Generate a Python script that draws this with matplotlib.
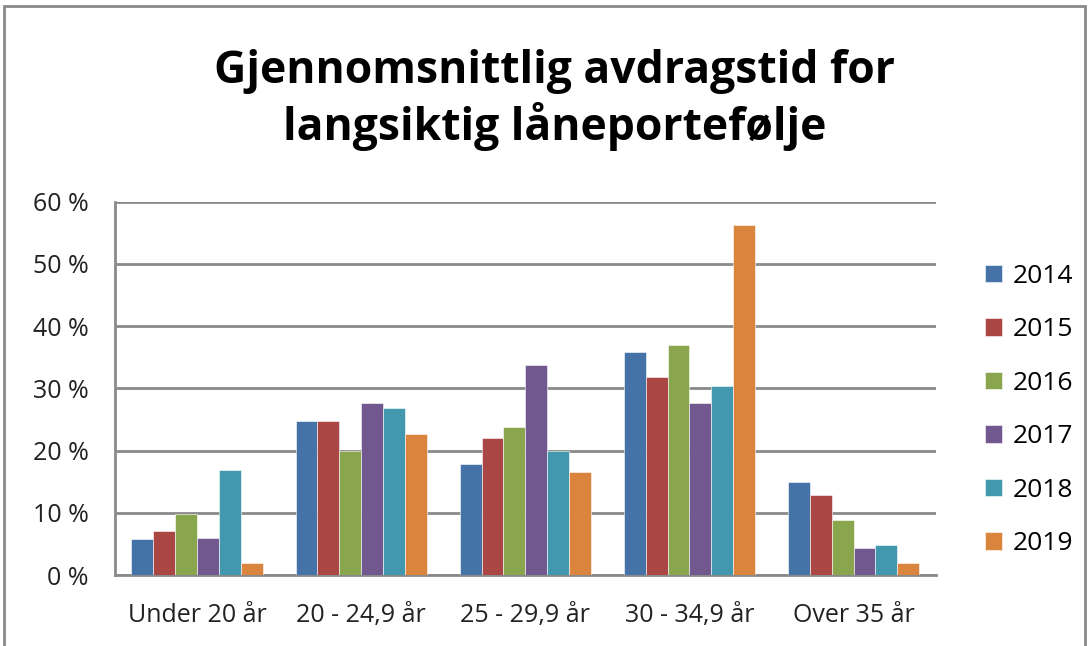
import matplotlib.pyplot as plt
import numpy as np
from matplotlib.patches import Rectangle
from matplotlib.ticker import FuncFormatter

categories = ['Under 20 år', '20 - 24,9 år', '25 - 29,9 år', '30 - 34,9 år', 'Over 35 år']
years = ['2014', '2015', '2016', '2017', '2018', '2019']
values = {
    '2014': [5.8, 24.8, 17.9, 35.8, 14.9],
    '2015': [7.0, 24.8, 22.0, 31.8, 12.9],
    '2016': [9.8, 19.9, 23.8, 37.0, 8.8],
    '2017': [6.0, 27.6, 33.7, 27.6, 4.4],
    '2018': [16.8, 26.9, 20.0, 30.4, 4.8],
    '2019': [2.0, 22.7, 16.6, 56.2, 2.0],
}
colors = ['#4572A7', '#AA4643', '#89A54E', '#71588F', '#4198AF', '#DB843D']

plt.rcParams['font.family'] = ['Open Sans', 'DejaVu Sans']

fig = plt.figure(figsize=(10.88, 6.46), dpi=100)
ax = fig.add_axes([0.1057, 0.1099, 0.860 - 0.1057, 0.6878 - 0.1099])

x = np.arange(len(categories))
w = 1 / 7.5
for i, yr in enumerate(years):
    ax.bar(x + (i - 2.5) * w, values[yr], width=w, color=colors[i],
           edgecolor='white', linewidth=0.4, label=yr, zorder=3)

ax.set_xlim(-0.5, len(categories) - 0.5)
ax.set_ylim(0, 60)
ax.set_yticks(range(0, 61, 10))
ax.yaxis.set_major_formatter(FuncFormatter(lambda v, p: f'{int(v)} %'))
ax.set_xticks(x)
ax.set_xticklabels(categories)
ax.tick_params(axis='both', length=0, labelsize=18, colors='#222222')
ax.tick_params(axis='y', pad=19)
ax.tick_params(axis='x', pad=20)
ax.grid(axis='y', color='#8a8a8a', linewidth=2, zorder=0)
for s in ['top', 'right']:
    ax.spines[s].set_visible(False)
for s in ['left', 'bottom']:
    ax.spines[s].set_color('#8a8a8a')
    ax.spines[s].set_linewidth(2)

fig.text(0.51, 0.845, 'Gjennomsnittlig avdragstid for\nlangsiktig låneportefølje',
         ha='center', va='center', fontsize=32, fontweight='bold',
         linespacing=1.22)

ax.legend(loc='center left', bbox_to_anchor=(1.06, 0.442), frameon=False,
          fontsize=19, handlelength=0.65, handleheight=0.65,
          labelspacing=1.08, handletextpad=0.4, borderpad=0, borderaxespad=0)

fig.patches.append(Rectangle((0.004, -0.01), 0.993, 1.0, transform=fig.transFigure,
                             fill=False, edgecolor='#8a8a8a', linewidth=2))

fig.savefig('out.png', dpi=100)
